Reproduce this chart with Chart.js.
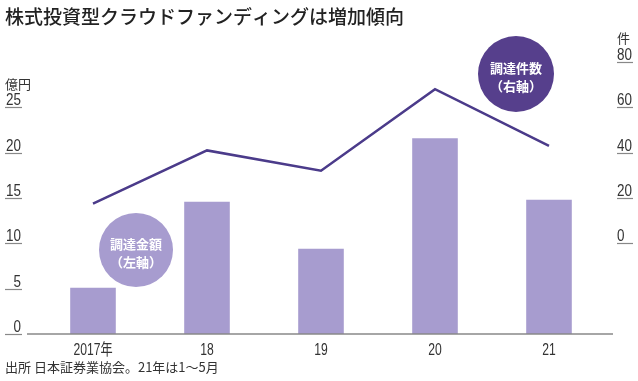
<!DOCTYPE html>
<html>
<head>
<meta charset="utf-8">
<script src="https://cdn.jsdelivr.net/npm/chart.js@4/dist/chart.umd.min.js"></script>
<style>
  html, body { margin: 0; padding: 0; background: #fff; }
  #wrap { width: 638px; height: 381px; }
</style>
</head>
<body>
<div id="wrap"><canvas id="fundingChart" width="638" height="381"></canvas></div>
<script>
const years = ['2017年', '18', '19', '20', '21']
const amounts = [5.1, 14.6, 9.4, 21.6, 14.8]   // 億円 (left)
const counts = [17.5, 41, 32, 68, 43]          // 件 (right)
const leftTicks = [0, 5, 10, 15, 20, 25]
const rightTicks = [0, 20, 40, 60, 80]

const sans = "'Liberation Sans', 'Noto Sans CJK JP', sans-serif"
const cjk = "'Noto Sans CJK JP', sans-serif"

// draws text squeezed horizontally (the original uses a condensed face)
function narrowText (ctx, text, x, y, sx, align) {
  ctx.save()
  ctx.translate(x, y)
  ctx.scale(sx, 1)
  ctx.textAlign = align
  ctx.fillText(text, 0, 0)
  ctx.restore()
}

// title, tick labels, underlines, baseline, bubbles, footnote
const decor = {
  id: 'decor',
  afterDraw (chart) {
    const ctx = chart.ctx
    const area = chart.chartArea
    ctx.save()
    ctx.fillStyle = '#222'
    ctx.font = '500 19px ' + cjk
    ctx.textBaseline = 'middle'
    ctx.textAlign = 'left'
    ctx.fillText('株式投資型クラウドファンディングは増加傾向', 5, 17)

    ctx.fillStyle = '#333'
    ctx.font = '13px ' + cjk
    ctx.fillText('億円', 5, 84)
    ctx.fillText('件', 617, 38)
    ctx.fillText('出所 日本証券業協会。21年は1〜5月', 5, 367)

    // y tick labels with underlines
    const yl = chart.scales.y
    const yr = chart.scales.y2
    ctx.textBaseline = 'alphabetic'
    ctx.font = '16px ' + sans
    ctx.strokeStyle = '#888'
    ctx.lineWidth = 1.2
    leftTicks.forEach((v) => {
      const y = Math.round(yl.getPixelForValue(v))
      narrowText(ctx, String(v), 21, y - 2, 0.84, 'right')
      ctx.beginPath(); ctx.moveTo(5, y + 0.5); ctx.lineTo(22, y + 0.5); ctx.stroke()
    })
    rightTicks.forEach((v) => {
      const y = Math.round(yr.getPixelForValue(v))
      narrowText(ctx, String(v), 617, y - 2, 0.84, 'left')
      ctx.beginPath(); ctx.moveTo(617, y + 0.5); ctx.lineTo(633, y + 0.5); ctx.stroke()
    })

    // x tick labels
    const xs = chart.scales.x
    years.forEach((lab, i) => {
      narrowText(ctx, lab, xs.getPixelForValue(i), 355, 0.76, 'center')
    })

    // baseline
    ctx.strokeStyle = '#888'
    ctx.lineWidth = 1.5
    ctx.beginPath(); ctx.moveTo(27, area.bottom); ctx.lineTo(613, area.bottom); ctx.stroke()

    // bubbles
    const bubble = (x, y, r, color, l1, l2) => {
      ctx.fillStyle = color
      ctx.beginPath(); ctx.arc(x, y, r, 0, Math.PI * 2); ctx.fill()
      ctx.fillStyle = '#fff'
      ctx.font = 'bold 13px ' + cjk
      ctx.textAlign = 'center'
      ctx.textBaseline = 'middle'
      ctx.fillText(l1, x, y - 6)
      ctx.fillText(l2, x, y + 12)
    }
    bubble(136, 250, 37, '#a79ccf', '調達金額', '（左軸）')
    bubble(516, 74, 38, '#563f8c', '調達件数', '（右軸）')
    ctx.restore()
  }
}

const myChart = new Chart(document.getElementById('fundingChart'), {
  type: 'bar',
  data: {
    labels: years,
    datasets: [{
      type: 'line',
      label: '調達件数',
      data: counts,
      yAxisID: 'y2',
      borderColor: '#4b3b8a',
      borderWidth: 2.5,
      pointRadius: 0,
      tension: 0,
      order: 0
    }, {
      type: 'bar',
      label: '調達金額',
      data: amounts,
      yAxisID: 'y',
      backgroundColor: '#a79ccf',
      barPercentage: 0.4,
      categoryPercentage: 1,
      order: 1
    }]
  },
  options: {
    responsive: false,
    animation: false,
    layout: { padding: { top: 62, left: 0, right: 0, bottom: 0 } },
    plugins: { legend: { display: false }, tooltip: { enabled: false } },
    scales: {
      x: {
        grid: { display: false, drawTicks: false },
        border: { display: false },
        ticks: { display: false },
        afterFit (scale) { scale.height = 47 }
      },
      y: {
        position: 'left',
        min: 0,
        max: 30,
        grid: { display: false, drawTicks: false },
        border: { display: false },
        ticks: { display: false },
        afterFit (scale) { scale.width = 36 }
      },
      y2: {
        position: 'right',
        min: -40,
        max: 80,
        grid: { display: false, drawTicks: false },
        border: { display: false },
        ticks: { display: false },
        afterFit (scale) { scale.width = 32 }
      }
    }
  },
  plugins: [decor]
})
</script>
</body>
</html>
